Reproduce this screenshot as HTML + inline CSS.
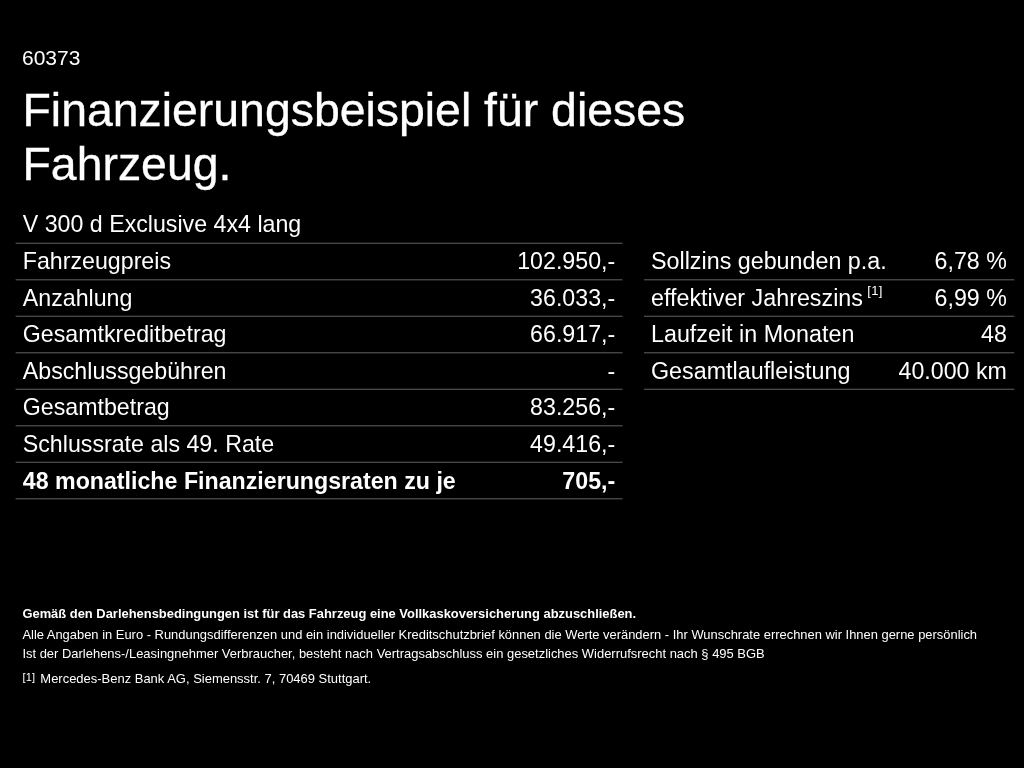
<!DOCTYPE html>
<html><head><meta charset="utf-8">
<style>
html,body{margin:0;padding:0;background:#000;}
body{will-change:transform;transform:translateZ(0);width:1024px;height:768px;overflow:hidden;position:relative;color:#fff;font-family:"Liberation Sans",sans-serif;}
.abs{position:absolute;white-space:nowrap;}
#id{left:22px;top:46px;font-size:21px;line-height:24px;}
#h1{left:22.5px;top:83.45px;font-size:46.4px;line-height:54px;-webkit-text-stroke:0.35px #fff;}
#sub{left:22.8px;top:210px;font-size:23.2px;line-height:28px;}
.t{position:absolute;white-space:nowrap;font-size:23.2px;line-height:28px;}
.l1{left:22.8px;}
.r1{right:408.8px;}
.l2{left:651px;font-size:23.3px}
.r2{right:17.2px;}
.b{font-weight:bold;}
.fn{font-size:13px;position:relative;top:-11.1px;margin-left:-2.2px;letter-spacing:0.4px;}
.foot{left:22.4px;font-size:12.93px;line-height:16px;}
svg{position:absolute;left:0;top:0;}
</style></head><body>
<svg width="1024" height="768" viewBox="0 0 1024 768">
<g fill="#555">
<rect x="15.6" y="242.70" width="606.9" height="1.15"/>
<rect x="15.6" y="279.20" width="606.9" height="1.15"/>
<rect x="15.6" y="315.70" width="606.9" height="1.15"/>
<rect x="15.6" y="352.20" width="606.9" height="1.15"/>
<rect x="15.6" y="388.70" width="606.9" height="1.15"/>
<rect x="15.6" y="425.20" width="606.9" height="1.15"/>
<rect x="15.6" y="461.70" width="606.9" height="1.15"/>
<rect x="15.6" y="498.20" width="606.9" height="1.15"/>
<rect x="644" y="279.20" width="370.3" height="1.15"/>
<rect x="644" y="315.70" width="370.3" height="1.15"/>
<rect x="644" y="352.20" width="370.3" height="1.15"/>
<rect x="644" y="388.70" width="370.3" height="1.15"/>
</g></svg>
<div class="abs" id="id">60373</div>
<div class="abs" id="h1">Finanzierungsbeispiel für dieses<br>Fahrzeug.</div>
<div class="abs" id="sub">V 300 d Exclusive 4x4 lang</div>
<div class="t l1" style="top:246.70px">Fahrzeugpreis</div><div class="t r1" style="top:246.70px">102.950,-</div>
<div class="t l1" style="top:284.20px">Anzahlung</div><div class="t r1" style="top:284.20px">36.033,-</div>
<div class="t l1" style="top:319.70px">Gesamtkreditbetrag</div><div class="t r1" style="top:319.70px">66.917,-</div>
<div class="t l1" style="top:357.20px">Abschlussgebühren</div><div class="t r1" style="top:357.20px">-</div>
<div class="t l1" style="top:392.70px">Gesamtbetrag</div><div class="t r1" style="top:392.70px">83.256,-</div>
<div class="t l1" style="top:430.20px">Schlussrate als 49. Rate</div><div class="t r1" style="top:430.20px">49.416,-</div>
<div class="t l1 b" style="top:466.70px">48 monatliche Finanzierungsraten zu je</div><div class="t r1 b" style="top:466.70px">705,-</div>
<div class="t l2" style="top:246.70px">Sollzins gebunden p.a.</div><div class="t r2" style="top:246.70px">6,78 %</div>
<div class="t l2" style="top:284.20px">effektiver Jahreszins <span class="fn">[1]</span></div><div class="t r2" style="top:284.20px">6,99 %</div>
<div class="t l2" style="top:319.70px">Laufzeit in Monaten</div><div class="t r2" style="top:319.70px">48</div>
<div class="t l2" style="top:357.20px">Gesamtlaufleistung</div><div class="t r2" style="top:357.20px">40.000 km</div>
<div class="abs foot b" style="top:606px;">Gemäß den Darlehensbedingungen ist für das Fahrzeug eine Vollkaskoversicherung abzuschließen.</div>
<div class="abs foot" style="top:627px;">Alle Angaben in Euro - Rundungsdifferenzen und ein individueller Kreditschutzbrief können die Werte verändern - Ihr Wunschrate errechnen wir Ihnen gerne persönlich</div>
<div class="abs foot" style="top:646px;font-size:12.96px">Ist der Darlehens-/Leasingnehmer Verbraucher, besteht nach Vertragsabschluss ein gesetzliches Widerrufsrecht nach § 495 BGB</div>
<div class="abs foot" style="top:671px;font-size:12.97px"><span style="font-size:11px;position:relative;top:-1.8px;letter-spacing:0.2px">[1]</span><span style="display:inline-block;width:5.1px"></span>Mercedes-Benz Bank AG, Siemensstr. 7, 70469 Stuttgart.</div>
</body></html>
